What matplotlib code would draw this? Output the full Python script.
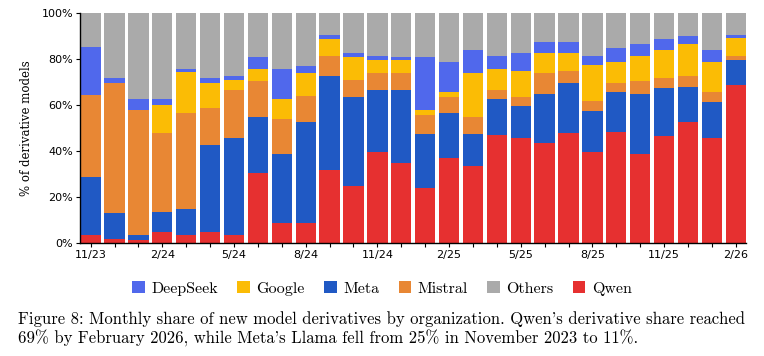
import numpy as np
import matplotlib
matplotlib.use("Agg")
import matplotlib.pyplot as plt
from matplotlib.patches import Patch
from matplotlib.ticker import PercentFormatter

# Datos (porcentaje mensual por organización)
meses = ["11/23", "12/23", "1/24", "2/24", "3/24", "4/24", "5/24", "6/24", "7/24", "8/24",
         "9/24", "10/24", "11/24", "12/24", "1/25", "2/25", "3/25", "4/25", "5/25", "6/25",
         "7/25", "8/25", "9/25", "10/25", "11/25", "12/25", "1/26", "2/26"]

qwen = [3.6, 1.9, 1.2, 4.9, 3.6, 4.9, 3.6, 30.6, 8.9, 8.9, 31.7, 24.8, 39.5, 34.8,
        23.7, 36.9, 33.5, 46.9, 45.6, 43.4, 47.8, 39.5, 48.2, 38.7, 46.5, 52.5, 45.6, 68.5]
meta = [25.1, 11.2, 2.4, 8.7, 11.3, 37.7, 42.0, 24.1, 29.8, 43.6, 40.7, 38.5, 26.9, 31.6,
        23.6, 19.5, 13.8, 15.6, 13.9, 21.2, 21.6, 17.8, 17.3, 25.9, 20.7, 15.2, 15.6, 10.9]
mistral = [35.5, 56.5, 54.1, 34.2, 41.5, 16.0, 20.8, 15.6, 15.1, 11.3, 8.7, 7.4, 7.3, 7.3,
           8.3, 6.9, 7.4, 3.9, 3.8, 9.1, 5.2, 4.3, 3.9, 5.7, 4.4, 4.7, 4.3, 2.1]
google = [0, 0, 0, 12.1, 17.8, 10.8, 4.3, 5.2, 8.7, 9.9, 7.4, 10.0, 5.7, 5.7,
          2.1, 2.2, 19.0, 9.1, 11.3, 8.7, 7.8, 15.6, 9.1, 11.2, 12.5, 14.3, 13.0, 7.8]
deepseek = [21.2, 2.0, 4.8, 2.6, 1.3, 2.2, 1.9, 5.2, 13.0, 3.1, 2.1, 1.7, 2.1, 1.3,
            23.0, 13.0, 10.0, 6.0, 7.8, 5.2, 5.2, 4.3, 6.1, 5.2, 4.4, 3.1, 5.2, 1.3]
otros = [100 - (a + b + c + d + e) for a, b, c, d, e in zip(qwen, meta, mistral, google, deepseek)]

# Orden de apilado (de abajo hacia arriba)
series = [
    ("Qwen", qwen, "#E63030"),
    ("Meta", meta, "#2059C4"),
    ("Mistral", mistral, "#E88734"),
    ("Google", google, "#FBBC05"),
    ("DeepSeek", deepseek, "#5068EC"),
    ("Others", otros, "#AAAAAA"),
]
orden_leyenda = ["DeepSeek", "Google", "Meta", "Mistral", "Others", "Qwen"]

fig = plt.figure(figsize=(7.64, 3.56), dpi=100)
ax = fig.add_axes([0.1047, 0.3174, 0.8717, 0.6461])

x = np.arange(len(meses))
ancho = 0.85
base = np.zeros(len(meses))
colores = {}
for nombre, valores, color in series:
    ax.bar(x, valores, ancho, bottom=base, color=color, linewidth=0)
    base += np.array(valores)
    colores[nombre] = color

# Formato de ejes
ax.set_xlim(-ancho / 2 - 0.02, len(meses) - 1 + ancho / 2)
ax.set_ylim(0, 100)
ax.yaxis.set_major_formatter(PercentFormatter(decimals=0))
ax.set_yticks([0, 20, 40, 60, 80, 100])
ax.set_xticks(x)
ax.set_xticklabels([m if i % 3 == 0 else "" for i, m in enumerate(meses)])
ax.tick_params(axis="both", labelsize=8, length=3, width=0.8, pad=2)
ax.spines["top"].set_visible(False)
ax.spines["right"].set_visible(False)
ax.spines["left"].set_linewidth(1.0)
ax.spines["bottom"].set_linewidth(1.0)
ax.set_ylabel("% of derivative models", fontsize=8.5, family="DejaVu Serif", labelpad=6)

# Leyenda
handles = [Patch(facecolor=colores[n], edgecolor="none") for n in orden_leyenda]
fig.legend(handles, orden_leyenda, loc="center", bbox_to_anchor=(0.5, 0.19), ncol=6,
           frameon=False, prop={"family": "cmr10", "size": 11.5},
           handlelength=0.8, handleheight=0.8, handletextpad=0.4, columnspacing=1.2)

# Pie de figura
pie1 = "Figure 8: Monthly share of new model derivatives by organization. Qwen's derivative share reached"
pie2 = "69% by February 2026, while Meta's Llama fell from 25% in November 2023 to 11%."
fig.text(0.024, 0.105, pie1, family=["cmr10", "DejaVu Serif"], fontsize=12, ha="left", va="center")
fig.text(0.024, 0.05, pie2, family=["cmr10", "DejaVu Serif"], fontsize=12, ha="left", va="center")

fig.savefig("out.png", dpi=100)
